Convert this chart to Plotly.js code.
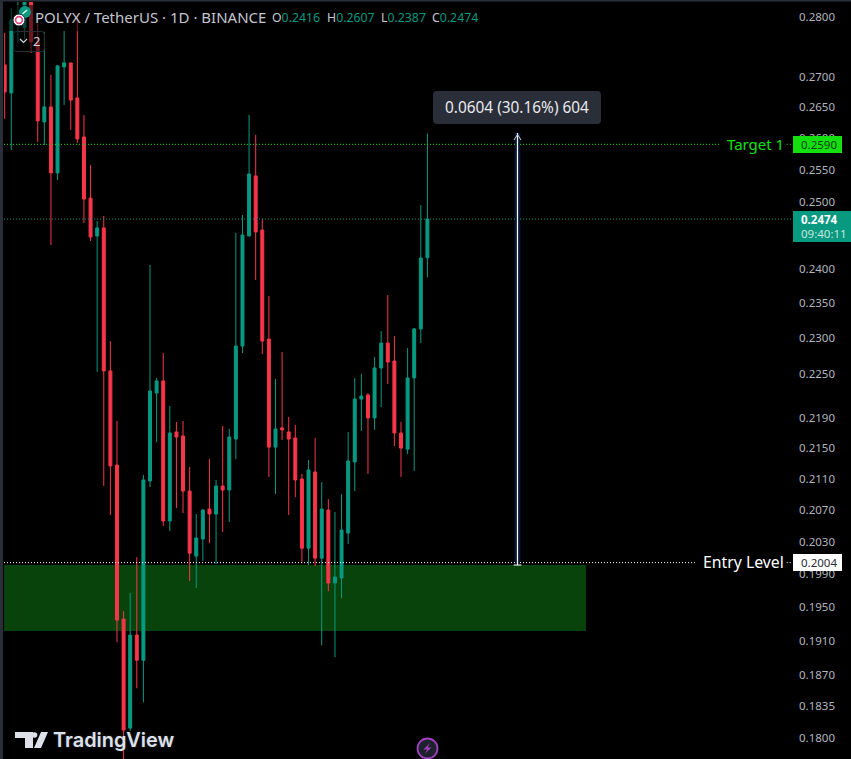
<!DOCTYPE html>
<html>
<head>
<meta charset="utf-8">
<script src="https://cdn.plot.ly/plotly-3.0.1.min.js"></script>
<style>html,body{margin:0;padding:0;background:#000;overflow:hidden}#chart{width:851px;height:759px}</style>
</head>
<body>
<div id="chart"></div>
<script>
// Daily candles
const opens = [.27193,.26729,.27887,.27818,.2830,.27579,.26259,.26501,.25450,.27160,.27226,.26646,.26018,.25060,.24484,.24606,.22540,.21276,.19358,.18106,.19169,.18876,.21069,.22236,.22402,.20558,.21712,.21658,.20939,.20120,.20332,.20709,.20646,.21004,.20952,.21618,.22886,.24484,.25403,.24575,.22984,.21511,.21766,.21712,.21632,.21095,.20218,.21186,.20095,.20696,.19791,.19852,.20407,.21315,.22154,.22209,.21899,.22581,.22928,.22677,.21698,.21484,.22443,.23128,.2416];
const highs = [.27733,.28160,.2832,.2835,.2835,.27887,.27750,.27028,.27193,.27767,.27226,.28058,.26372,.25575,.24711,.24787,.22956,.21859,.19453,.19669,.20108,.21147,.24053,.22443,.22788,.22060,.21846,.21859,.21250,.20646,.20709,.21354,.21082,.21792,.21752,.24530,.24802,.26372,.26050,.24742,.23599,.22429,.22801,.21912,.21806,.21160,.21341,.21632,.21056,.20835,.20671,.20900,.21712,.22443,.22498,.22236,.22733,.23099,.23613,.23028,.21846,.22857,.23142,.24953,.2607];
const lows = [.26308,.25809,.27562,.27630,.27392,.25938,.25889,.24348,.25341,.26533,.26131,.25922,.24681,.24409,.22526,.21004,.20633,.19086,.1770,.18072,.18554,.18395,.20991,.21578,.20495,.20432,.20721,.20658,.19815,.19730,.20059,.20281,.20022,.20420,.20545,.21354,.22788,.24484,.23833,.22774,.21121,.20900,.21605,.20633,.20861,.20035,.20010,.19998,.19050,.19693,.18911,.19607,.20269,.20939,.21725,.21160,.21739,.22046,.22360,.21525,.21121,.21419,.21199,.22928,.2387];
const closes = [.26745,.27955,.28023,.2830,.27579,.26275,.26501,.25450,.27176,.27226,.26613,.25986,.25045,.24469,.24606,.22540,.21263,.19346,.18084,.19169,.18876,.21082,.22264,.22402,.20558,.21698,.21645,.20939,.20156,.20344,.20696,.20646,.21004,.20952,.21645,.22886,.24500,.25434,.24545,.22956,.21511,.21752,.21739,.21618,.21082,.20218,.21212,.20095,.20709,.19791,.19864,.20445,.21328,.22154,.22195,.21899,.22581,.22928,.22663,.21698,.21498,.22443,.23128,.24156,.2474];

const tickValues = [.28,.27,.265,.26,.255,.25,.24,.235,.23,.225,.219,.215,.211,.207,.203,.199,.195,.191,.187,.1835,.18];
const tickLabels = ["0.2800","0.2700","0.2650","0.2600","0.2550","0.2500","0.2400","0.2350","0.2300","0.2250","0.2190","0.2150","0.2110","0.2070","0.2030","0.1990","0.1950","0.1910","0.1870","0.1835","0.1800"];

const targetLevel = 0.2590, entryLevel = 0.2004, lastPrice = 0.2474;
const zoneTop = 0.2001, zoneBottom = 0.19216;
const measureTop = 0.2608, measureBottom = 0.2001;
const measureIndex = 77.64, zoneEndIndex = 88;
const targetLineEnd = 108.3, entryLineEnd = 104.5;

const UP = '#089981', DOWN = '#f7364a', TICK = '#b2b5be', PANEL = '#2a2e39', GREEN = '#14e010';
const FONT = '"Noto Sans", sans-serif';
const W = 851, H = 759, L = 4, R = 59, T = 2, B = 0;
const DOTS = '1px,2px';

const X0 = -0.106, X1 = 119.2;
const xp = px => (px - L) / (W - L - R);
const yp = py => (H - B - py) / (H - T - B);
const pts = a => a.map((p, i) => (i ? 'L' : 'M') + xp(p[0]).toFixed(5) + ' ' + yp(p[1]).toFixed(5)).join(' ');
const poly = (a, fill) => ({type:'path', xref:'paper', yref:'paper', path: pts(a) + ' Z', fillcolor: fill, line:{width:0}});
const strokePx = (a, color, w) => ({type:'path', xref:'paper', yref:'paper', path: pts(a), line:{color, width:w}});
const rectPx = (x0,y0,x1,y1,fill) => ({type:'rect', xref:'paper', yref:'paper', x0:xp(x0), x1:xp(x1), y0:yp(y0), y1:yp(y1), fillcolor:fill, line:{width:0}});
const circlePx = (cx,cy,r,fill,lc,lw) => ({type:'circle', xref:'paper', yref:'paper', x0:xp(cx-r), x1:xp(cx+r), y0:yp(cy-r), y1:yp(cy+r), fillcolor:fill, line:{color:lc, width:lw}});
function roundPx(x0,y0,x1,y1,r,fill,lc,lw){
  const f = (x,y)=> xp(x).toFixed(5)+' '+yp(y).toFixed(5);
  return {type:'path', xref:'paper', yref:'paper', fillcolor:fill, line:{color:lc||fill, width:lw||0},
    path:`M${f(x0+r,y0)} L${f(x1-r,y0)} Q${f(x1,y0)} ${f(x1,y0+r)} L${f(x1,y1-r)} Q${f(x1,y1)} ${f(x1-r,y1)} L${f(x0+r,y1)} Q${f(x0,y1)} ${f(x0,y1-r)} L${f(x0,y0+r)} Q${f(x0,y0)} ${f(x0+r,y0)} Z`};
}
const hLine = (price, x0, x1, color) => ({type:'line', xref:'x', yref:'y', x0, x1, y0:price, y1:price, line:{color, width:1, dash:DOTS}});
const mHalf = 0.45; // half width of the measure band in bars

const shapes = [
  {type:'rect', layer:'below', xref:'x', yref:'y', x0:X0, x1:zoneEndIndex, y0:zoneBottom, y1:zoneTop, fillcolor:'#08430c', line:{width:0}},
  {type:'rect', layer:'below', xref:'x', yref:'y', x0:measureIndex-mHalf, x1:measureIndex+mHalf, y0:measureBottom, y1:measureTop, fillcolor:'#0b1736', line:{width:0}},
  hLine(targetLevel, X0, targetLineEnd, GREEN),
  hLine(targetLevel, 118.4, X1, GREEN),
  hLine(entryLevel, X0, entryLineEnd, '#ffffff'),
  hLine(entryLevel, 118.4, X1, '#ffffff'),
  hLine(lastPrice, X0, X1, UP),
  {type:'line', xref:'x', yref:'y', x0:measureIndex, x1:measureIndex, y0:measureBottom, y1:measureTop, line:{color:'#ffffff', width:1.2}},
  {type:'line', xref:'x', yref:'y', x0:measureIndex-0.6, x1:measureIndex+0.6, y0:measureBottom, y1:measureBottom, line:{color:'#ffffff', width:1}},
  strokePx([[514,140],[517.5,134.5],[521,140]], '#c9ccd4', 1),
  // legend backdrops
  rectPx(8,5,508,31,'rgba(0,0,0,0.55)'),
  roundPx(13.5,31.5,44.5,51.5,3,'rgba(0,0,0,0.55)',PANEL,1),
  strokePx([[20,39],[23.5,42.5],[27,39]], '#d1d4dc', 1.2),
  // symbol logos
  circlePx(25,12,6,UP,UP,0),
  strokePx([[22.5,14],[27,10]], '#e8f6f3', 1.3),
  circlePx(19,20,6,'#ffffff','#1e222d',1),
  circlePx(19,20,3.4,'rgba(0,0,0,0)','#e0457b',1.6),
  // frame
  rectPx(0,0,3,759,PANEL),
  rectPx(0,0,851,1.5,PANEL),
  // measure caption
  roundPx(433,91,601,124,4,PANEL),
  // price boxes
  rectPx(793,136,842,153,GREEN),
  rectPx(793,554,842,571,'#ffffff'),
  rectPx(793,211,851,242,UP),
  // TradingView mark
  poly([[15,732],[33,732],[33,748],[25,748],[25,738],[15,738]], '#dfe1ea'),
  circlePx(34.5,735,2.8,'#dfe1ea','#dfe1ea',0),
  poly([[41,732],[48,732],[41,748],[34,748]], '#dfe1ea'),
  // lightning badge
  circlePx(427.5,748.5,10,'#1e222d','#a23fc2',1.8),
  poly([[430,743],[423.5,749.5],[427.3,749.5],[424.5,754],[431.5,747.5],[427.7,747.5]], '#a23fc2')
];

const noteAt = (px, py, text, size, color, anchor, extra) => Object.assign({
  xref:'paper', yref:'paper', x:xp(px), y:yp(py), text, showarrow:false,
  xanchor:anchor||'left', yanchor:'middle', borderpad:0, borderwidth:0,
  font:{family:FONT, size, color}
}, extra||{});
const ohlc = (k,v)=>`<span style="color:#c5c8d0">${k}</span><span style="color:${UP}">${v}</span>`;

const annotations = [
  noteAt(35,17.5,'POLYX / TetherUS · 1D · BINANCE',15,'#c3c6ce'),
  noteAt(272,17.5,ohlc('O','0.2416'),12.3,UP),
  noteAt(327,17.5,ohlc('H','0.2607'),12.3,UP),
  noteAt(381,17.5,ohlc('L','0.2387'),12.3,UP),
  noteAt(432,17.5,ohlc('C','0.2474'),12.3,UP),
  noteAt(36,41.5,'2',13,'#d1d4dc','center'),
  noteAt(517,107.5,'0.0604 (30.16%) 604',15.4,'#e8e9ec','center'),
  noteAt(784,144,'Target 1',15,GREEN,'right'),
  noteAt(784,561.5,'Entry Level',15.8,'#ffffff','right'),
  noteAt(801,144.5,'0.2590',11.5,'#123d10'),
  noteAt(801,562.5,'0.2004',11.5,'#2a2e39'),
  noteAt(801,219,'0.2474',11.5,'#ffffff','left',{font:{family:FONT,size:11.5,color:'#ffffff',weight:700}}),
  noteAt(801,233.5,'09:40:11',11.5,'#c7e6df'),
  noteAt(53,740,'TradingView',19.9,'#dfe1ea','left',{font:{family:'Inter, sans-serif',size:19.9,color:'#dfe1ea',weight:600,shadow:'0 0 3px #2a2e39'}})
];

const trace = {
  type:'candlestick',
  x: opens.map((_, i) => i),
  open: opens, high: highs, low: lows, close: closes,
  increasing:{line:{color:UP, width:1}, fillcolor:UP},
  decreasing:{line:{color:DOWN, width:1}, fillcolor:DOWN},
  whiskerwidth:0, hoverinfo:'skip', showlegend:false
};

Plotly.newPlot('chart',[trace],{
  width:W, height:H, margin:{l:L, r:R, t:T, b:B, pad:0},
  paper_bgcolor:'#000000', plot_bgcolor:'#000000',
  showlegend:false, dragmode:false, boxgap:0.36,
  xaxis:{type:'linear', range:[X0,X1], autorange:false, rangeslider:{visible:false}, showgrid:false, zeroline:false, showticklabels:false, ticks:'', showline:false},
  yaxis:{type:'log', range:[-0.75041,-0.54879], autorange:false, side:'right', showgrid:false, zeroline:false, showline:false, ticks:'',
    tickmode:'array', tickvals:tickValues, ticktext:tickLabels, ticklabelstandoff:6, tickfont:{family:FONT, size:11.5, color:TICK}},
  shapes, annotations
},{displayModeBar:false, staticPlot:true});
</script>
</body>
</html>
